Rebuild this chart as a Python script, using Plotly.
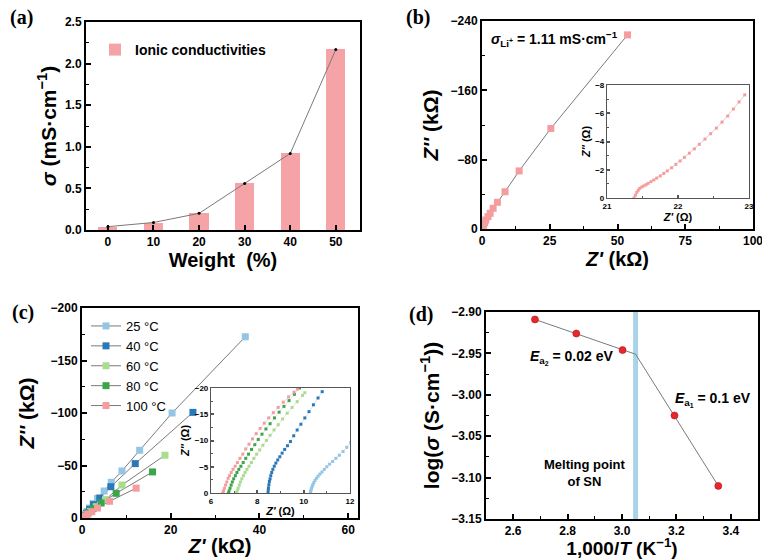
import plotly.graph_objects as go

# ---------------- data ----------------
# (a) ionic conductivity vs weight
WEIGHT = [0, 10, 20, 30, 40, 50]
SIGMA = [0.04, 0.09, 0.20, 0.56, 0.92, 2.17]

# (b) Nyquist plot, main
B_ZRE = [0.1, 0.3, 0.6, 1.0, 1.4, 2.2, 3.0, 4.1, 5.7, 8.5, 13.7, 25.4, 53.7]
B_ZIM = [-0.5, -2.0, -4.6, -7.3, -10.4, -14.2, -18.1, -23.9, -30.8, -43.0, -67.0, -116.0, -224.0]
# (b) inset (Ohm)
BI_ZRE = [21.38, 21.40, 21.42, 21.44, 21.46, 21.49, 21.52, 21.55, 21.58, 21.62, 21.66, 21.70,
          21.75, 21.80, 21.85, 21.91, 21.97, 22.03, 22.09, 22.16, 22.23, 22.30, 22.38, 22.46,
          22.54, 22.62, 22.70, 22.78, 22.86, 22.94]
BI_ZIM = [0, -0.2, -0.4, -0.55, -0.68, -0.78, -0.86, -0.94, -1.04, -1.16, -1.28, -1.41,
          -1.56, -1.74, -1.92, -2.14, -2.38, -2.62, -2.88, -3.17, -3.48, -3.80, -4.17, -4.55,
          -4.95, -5.37, -5.80, -6.30, -6.80, -7.30]

# (c) Nyquist plots at temperatures (kOhm)
TEMPS = ["25 °C", "40 °C", "60 °C", "80 °C", "100 °C"]
COLORS = ["#93c5e5", "#2a78b8", "#a9dc8e", "#3ba54a", "#f59c9e"]
C25_X = [0.5, 1.1, 1.7, 2.5, 3.5, 5.0, 6.6, 9.0, 13.0, 20.3, 36.8]
C25_Y = [-3.2, -6.3, -9.5, -13.7, -18.7, -25.7, -34.0, -44.8, -64.5, -100.0, -172.6]
C40_X = [0.4, 1.0, 1.7, 2.6, 4.0, 6.5, 12.0, 25.0]
C40_Y = [-1.9, -4.4, -8.3, -12.7, -19.0, -29.8, -51.8, -100.6]
C60_X = [1.0, 1.9, 3.2, 5.3, 9.0, 18.7]
C60_Y = [-3.2, -6.3, -10.8, -17.5, -31.4, -59.8]
C80_X = [0.7, 1.4, 2.5, 4.3, 7.7, 15.9]
C80_Y = [-2.5, -5.1, -8.9, -14.3, -23.5, -43.9]
C100_X = [0.7, 1.3, 2.2, 3.5, 6.2, 12.2]
C100_Y = [-1.9, -3.8, -6.0, -9.5, -15.9, -28.4]

# (c) inset (Ohm)
I25_X = [10.29, 10.30, 10.32, 10.34, 10.37, 10.40, 10.44, 10.49, 10.55, 10.62, 10.70, 10.79,
         10.89, 11.00, 11.12, 11.25, 11.39, 11.54, 11.70, 11.86, 12.03]
I25_Y = [0, -0.3, -0.6, -0.9, -1.3, -1.6, -2.0, -2.4, -2.8, -3.2, -3.6, -4.0,
         -4.5, -5.0, -5.5, -6.0, -6.6, -7.2, -7.9, -8.7, -9.6]
I40_X = [8.46, 8.47, 8.48, 8.50, 8.52, 8.55, 8.58, 8.62, 8.67, 8.73, 8.80, 8.88, 8.97,
         9.07, 9.18, 9.30, 9.43, 9.57, 9.72, 9.88, 10.05, 10.23, 10.42, 10.62, 10.80]
I40_Y = [0, -0.5, -1.0, -1.6, -2.2, -2.7, -3.3, -3.9, -4.5, -5.1, -5.7, -6.3, -6.9,
         -7.6, -8.3, -9.0, -9.8, -10.9, -12.0, -13.1, -14.3, -15.5, -16.8, -18.1, -19.3]
I60_X = [7.10, 7.13, 7.17, 7.22, 7.27, 7.33, 7.40, 7.47, 7.55, 7.64, 7.74, 7.85, 7.97,
         8.10, 8.24, 8.39, 8.55, 8.72, 8.90, 9.09, 9.29, 9.50, 9.72, 9.95, 10.05]
I60_Y = [0, -0.4, -0.9, -1.5, -2.1, -2.7, -3.3, -3.9, -4.5, -5.1, -5.8, -6.6, -7.4,
         -8.2, -9.1, -10.0, -11.0, -12.0, -13.0, -14.1, -15.2, -16.3, -17.4, -18.6, -19.1]
I80_X = [6.75, 6.78, 6.82, 6.87, 6.92, 6.98, 7.05, 7.12, 7.20, 7.29, 7.39, 7.50, 7.62,
         7.75, 7.89, 8.04, 8.20, 8.37, 8.55, 8.74, 8.94, 9.15, 9.37, 9.60, 9.82]
I80_Y = [0, -0.4, -0.9, -1.5, -2.1, -2.7, -3.3, -3.9, -4.5, -5.1, -5.8, -6.6, -7.4,
         -8.3, -9.2, -10.2, -11.2, -12.2, -13.2, -14.3, -15.4, -16.5, -17.6, -18.8, -20.0]
I100_X = [6.51, 6.54, 6.58, 6.63, 6.68, 6.74, 6.80, 6.87, 6.95, 7.04, 7.14, 7.25, 7.37,
          7.50, 7.64, 7.79, 7.95, 8.12, 8.30, 8.49, 8.69, 8.90, 9.12, 9.35, 9.58, 9.73]
I100_Y = [0, -0.4, -0.9, -1.5, -2.1, -2.8, -3.3, -3.9, -4.5, -5.1, -5.8, -6.6, -7.4,
          -8.4, -9.3, -10.3, -11.3, -12.3, -13.3, -14.3, -15.3, -16.3, -17.3, -18.3, -19.2, -19.8]

# (d) Arrhenius plot
INV_T = [2.680, 2.832, 3.002, 3.193, 3.354]
LOG_SIGMA = [-2.909, -2.926, -2.946, -3.025, -3.110]
FIT_X = [2.680, 3.050, 3.354]
FIT_Y = [-2.909, -2.951, -3.110]
MELT_X = 3.05

# ---------------- styling ----------------
FONT = "Liberation Sans"
W, H = 762, 559


def px_x(p):
    return p / W


def px_y(p):
    return 1 - p / H


def axis(domain, rng, dtick, minor, anchor, size=12, fmt=None, lw=2, lc="black",
         ticklen=5, title=None, tsize=20, standoff=None):
    d = dict(domain=domain, range=rng, anchor=anchor, showline=True, mirror=True,
             linecolor=lc, linewidth=lw, ticks="inside", ticklen=ticklen, tickwidth=1.5,
             tickcolor=lc, dtick=dtick, tick0=0, showgrid=False, zeroline=False,
             automargin=False, ticklabeloverflow="allow",
             tickfont=dict(family=FONT, size=size, color="black", weight="bold"))
    if minor:
        d["minor"] = dict(ticks="inside", ticklen=max(2, ticklen - 2), dtick=minor,
                          tickcolor=lc, tickwidth=1, showgrid=False)
    if fmt:
        d["tickformat"] = fmt
    if title:
        d["title"] = dict(text=title, font=dict(family=FONT, size=tsize, color="black", weight="bold"))
        if standoff is not None:
            d["title"]["standoff"] = standoff
    return d


fig = go.Figure()
GRAY = "#7a7a7a"

# (a)
fig.add_trace(go.Bar(x=WEIGHT, y=SIGMA, width=4.2, marker=dict(color="#f5a3a6", line=dict(width=0)),
                     name="Ionic conductivities", xaxis="x", yaxis="y", legend="legend"))
fig.add_trace(go.Scatter(x=WEIGHT, y=SIGMA, mode="lines+markers", line=dict(color=GRAY, width=1),
                         marker=dict(size=3, color="black"), showlegend=False, xaxis="x", yaxis="y"))

# (b)
fig.add_trace(go.Scatter(x=[0] + B_ZRE, y=[0] + B_ZIM, mode="lines", line=dict(color=GRAY, width=1),
                         showlegend=False, xaxis="x2", yaxis="y2"))
fig.add_trace(go.Scatter(x=B_ZRE, y=B_ZIM, mode="markers",
                         marker=dict(symbol="square", size=7, color="#f59c9e"),
                         showlegend=False, xaxis="x2", yaxis="y2"))
fig.add_trace(go.Scatter(x=BI_ZRE, y=BI_ZIM, mode="lines+markers", line=dict(color="#c8c8c8", width=0.8),
                         marker=dict(symbol="square", size=3, color="#f59c9e"),
                         showlegend=False, xaxis="x3", yaxis="y3"))

# (c)
CX = [C25_X, C40_X, C60_X, C80_X, C100_X]
CY = [C25_Y, C40_Y, C60_Y, C80_Y, C100_Y]
IX = [I25_X, I40_X, I60_X, I80_X, I100_X]
IY = [I25_Y, I40_Y, I60_Y, I80_Y, I100_Y]
for name, col, xs, ys in zip(TEMPS, COLORS, CX, CY):
    fig.add_trace(go.Scatter(x=[0] + xs, y=[0] + ys, mode="lines", line=dict(color=GRAY, width=1),
                             showlegend=False, xaxis="x4", yaxis="y4"))
for name, col, xs, ys in zip(TEMPS, COLORS, CX, CY):
    fig.add_trace(go.Scatter(x=xs, y=ys, mode="markers", name=name,
                             marker=dict(symbol="square", size=7, color=col),
                             xaxis="x4", yaxis="y4", showlegend=False))
    # legend entry (gray line + coloured square)
    fig.add_trace(go.Scatter(x=[None], y=[None], mode="lines+markers", name=name,
                             line=dict(color=GRAY, width=1),
                             marker=dict(symbol="square", size=7, color=col),
                             xaxis="x4", yaxis="y4", legend="legend2"))
for name, col, xs, ys in zip(TEMPS, COLORS, IX, IY):
    fig.add_trace(go.Scatter(x=xs, y=ys, mode="lines+markers", line=dict(color="#d0d0d0", width=0.6),
                             marker=dict(symbol="square", size=3, color=col),
                             showlegend=False, xaxis="x5", yaxis="y5"))

# (d)
fig.add_trace(go.Scatter(x=FIT_X, y=FIT_Y, mode="lines", line=dict(color=GRAY, width=1),
                         showlegend=False, xaxis="x6", yaxis="y6"))
fig.add_trace(go.Scatter(x=INV_T, y=LOG_SIGMA, mode="markers",
                         marker=dict(size=7, color="#e8262b", line=dict(color="#b31217", width=0.6)),
                         showlegend=False, xaxis="x6", yaxis="y6"))

# domains
A_X = [px_x(86), px_x(360)]
A_Y = [px_y(230), px_y(22)]
B_X = [px_x(482), px_x(753)]
B_Y = [px_y(229), px_y(21)]
BI_X = [px_x(607), px_x(749)]
BI_Y = [px_y(198), px_y(85)]
C_X = [px_x(82), px_x(358)]
C_Y = [px_y(518), px_y(308)]
CI_X = [px_x(211), px_x(350)]
CI_Y = [px_y(493), px_y(388)]
D_X = [px_x(486), px_x(758)]
D_Y = [px_y(519), px_y(312)]

ax_a = axis(A_X, [-4.8, 55.3], None, None, "y", title="Weight\u00a0\u00a0(%)", standoff=2)
ax_a["tickmode"] = "array"
ax_a["tickvals"] = WEIGHT
ay_a = axis(A_Y, [0, 2.5], 0.5, 0.25, "x", fmt=".1f", tsize=21,
            title="<i>σ</i> (mS·cm<sup>−1</sup>)", standoff=3)

ax_b = axis(B_X, [0, 100], 25, 12.5, "y2", title="<i>Z'</i> (kΩ)", standoff=2)
ay_b = axis(B_Y, [0, -240], 80, 40, "x2", title="<i>Z''</i> (kΩ)", tsize=21, standoff=6)

ax_bi = axis(BI_X, [21, 23], 1, 0.5, "y3", size=8, lw=1.2, lc="#555", ticklen=3,
             title="<i>Z'</i> (Ω)", tsize=11, standoff=2)
ay_bi = axis(BI_Y, [0, -8], 2, 1, "x3", size=8, lw=1.2, lc="#555", ticklen=3,
             title="<i>Z''</i> (Ω)", tsize=11, standoff=2)

ax_c = axis(C_X, [0, 62.2], 20, 10, "y4", title="<i>Z'</i> (kΩ)", standoff=3)
ay_c = axis(C_Y, [0, -200], 50, 25, "x4", title="<i>Z''</i> (kΩ)", tsize=21, standoff=10)

ax_ci = axis(CI_X, [6, 12], 2, 1, "y5", size=8, lw=1.2, lc="#555", ticklen=3,
             title="<i>Z'</i> (Ω)", tsize=11, standoff=2)
ay_ci = axis(CI_Y, [0, -20], 5, 2.5, "x5", size=8, lw=1.2, lc="#555", ticklen=3,
             title="<i>Z''</i> (Ω)", tsize=11, standoff=2)

ax_d = axis(D_X, [2.5, 3.5], 0.2, 0.1, "y6", fmt=".1f", tsize=19,
            title="1,000/<i>T</i> (K<sup>−1</sup>)", standoff=3)
ax_d["tick0"] = 2.6
ay_d = axis(D_Y, [-3.15, -2.90], 0.05, 0.025, "x6", fmt=".2f", tsize=21,
            title="log(<i>σ</i> (S·cm<sup>−1</sup>))", standoff=6)

ann = []
for lbl, x, y in [("(a)", 8, 18), ("(b)", 404, 18), ("(c)", 10, 312), ("(d)", 407, 314)]:
    ann.append(dict(text=lbl, x=px_x(x), y=px_y(y), xref="paper", yref="paper", xanchor="left",
                    yanchor="middle", showarrow=False,
                    font=dict(family="Liberation Serif", size=20, color="black", weight="bold")))
ann.append(dict(text="<i>σ</i><sub>Li<sup>+</sup></sub> = 1.11 mS·cm<sup>−1</sup>", x=2.6, y=-219,
                xref="x2", yref="y2", xanchor="left", yanchor="middle", showarrow=False,
                font=dict(family=FONT, size=14, color="black", weight="bold")))
ann.append(dict(text="<i>E</i><sub>a<sub>2</sub></sub> = 0.02 eV", x=2.654, y=-2.955,
                xref="x6", yref="y6", xanchor="left", yanchor="middle", showarrow=False,
                font=dict(family=FONT, size=14, color="black", weight="bold")))
ann.append(dict(text="<i>E</i><sub>a<sub>1</sub></sub> = 0.1 eV", x=3.187, y=-3.006,
                xref="x6", yref="y6", xanchor="left", yanchor="middle", showarrow=False,
                font=dict(family=FONT, size=14, color="black", weight="bold")))
ann.append(dict(text="Melting point<br>of SN", x=2.864, y=-3.094,
                xref="x6", yref="y6", xanchor="center", yanchor="middle", showarrow=False,
                font=dict(family=FONT, size=13, color="black", weight="bold")))

shapes = [dict(type="line", xref="x6", yref="y6 domain", x0=MELT_X, x1=MELT_X, y0=0, y1=1,
               line=dict(color="#a9d3e6", width=5), layer="below")]

fig.update_layout(
    width=W, height=H, margin=dict(l=0, r=0, t=0, b=0),
    paper_bgcolor="white", plot_bgcolor="white",
    xaxis=ax_a, yaxis=ay_a, xaxis2=ax_b, yaxis2=ay_b, xaxis3=ax_bi, yaxis3=ay_bi,
    xaxis4=ax_c, yaxis4=ay_c, xaxis5=ax_ci, yaxis5=ay_ci, xaxis6=ax_d, yaxis6=ay_d,
    annotations=ann, shapes=shapes, bargap=0,
    legend=dict(x=px_x(95), y=px_y(34), xanchor="left", yanchor="top", bgcolor="rgba(0,0,0,0)",
                font=dict(family=FONT, size=14, color="black", weight="bold")),
    legend2=dict(x=px_x(86), y=px_y(311), xanchor="left", yanchor="top", bgcolor="rgba(0,0,0,0)",
                 font=dict(family=FONT, size=13, color="black"), tracegroupgap=0, itemwidth=30),
    showlegend=True,
)

fig.write_html("out.html", config={"displayModeBar": False},
               post_script="document.body.style.margin='0px';document.body.style.overflow='hidden';")
